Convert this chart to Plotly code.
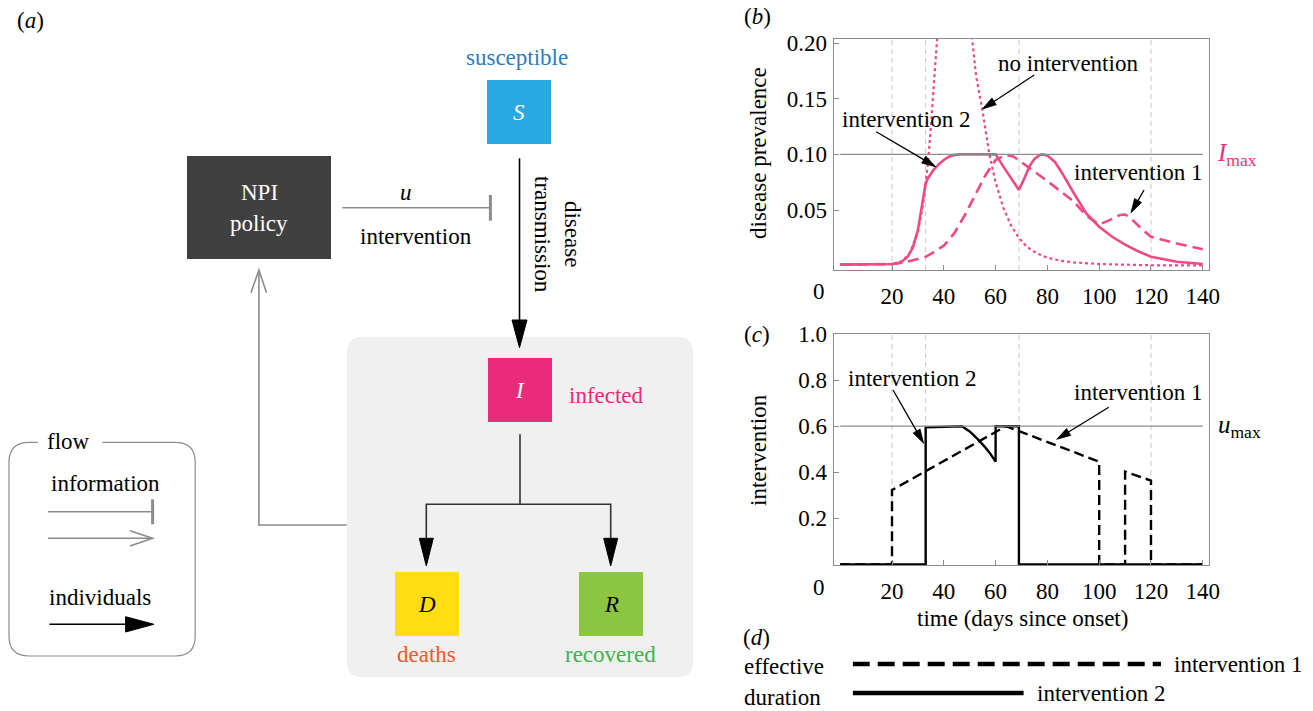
import math
import plotly.graph_objects as go

W, H = 1313, 711
FONT = "Liberation Serif"
PINK = "#EF4A85"
GRAY = "#8c8c8c"

# ---------------- data: panel (b) disease prevalence ----------------
days_none = [0, 10, 20, 24, 27, 30, 32, 33, 34, 35, 36, 36.6, 38, 41, 44, 47, 49.5, 51.1, 52.5,
             54.9, 57.6, 60, 63, 66, 69, 72, 76, 80, 85, 90, 100, 110, 120, 140]
prev_none = [0.001, 0.001, 0.0015, 0.004, 0.012, 0.03, 0.055, 0.074, 0.095, 0.125, 0.165, 0.2,
             0.26, 0.32, 0.34, 0.31, 0.25, 0.2, 0.17, 0.14, 0.1, 0.075, 0.052, 0.036, 0.025,
             0.017, 0.011, 0.0072, 0.0045, 0.003, 0.0015, 0.0008, 0.0004, 0.0002]

days_int2 = [0, 10, 20, 22, 24, 26, 28, 30, 31, 32, 33, 34, 36, 38, 40, 42, 44, 46, 50, 55, 60,
             63, 66, 69, 71, 73, 75, 77, 78, 80, 83, 86, 90, 95, 100, 105, 110, 115, 120, 130, 140]
prev_int2 = [0.001, 0.001, 0.0015, 0.002, 0.004, 0.008, 0.016, 0.032, 0.045, 0.06, 0.074, 0.079,
             0.086, 0.091, 0.095, 0.098, 0.0995, 0.1, 0.1, 0.1, 0.1, 0.089, 0.078, 0.068, 0.078,
             0.089, 0.096, 0.0995, 0.1, 0.099, 0.093, 0.082, 0.066, 0.047, 0.035, 0.026, 0.019,
             0.013, 0.008, 0.0035, 0.0015]

days_int1 = [0, 10, 20, 25, 30, 33, 36, 40, 44, 48, 52, 56, 60, 64, 67, 70, 75, 80, 85, 90, 95,
             100, 104, 108, 110, 112, 116, 120, 130, 140]
prev_int1 = [0.001, 0.001, 0.0015, 0.003, 0.006, 0.008, 0.012, 0.018, 0.029, 0.045, 0.063, 0.081,
             0.095, 0.0995, 0.098, 0.093, 0.084, 0.076, 0.067, 0.058, 0.045, 0.037, 0.041, 0.0455,
             0.046, 0.043, 0.034, 0.026, 0.02, 0.0147]

I_MAX = 0.1
U_MAX = 0.6
policy_days = [20, 33, 69, 120]        # dashed vertical markers
x_ticks = [20, 40, 60, 80, 100, 120, 140]
prev_ticks = [0.05, 0.10, 0.15, 0.20]
prev_tick_text = ["0.05", "0.10", "0.15", "0.20"]
u_ticks = [0.2, 0.4, 0.6, 0.8, 1.0]
u_tick_text = ["0.2", "0.4", "0.6", "0.8", "1.0"]

# ---------------- data: panel (c) intervention ----------------
u1_days = [0, 20, 20, 64, 100, 100, 110, 110, 120, 120, 140]
u1_vals = [0, 0, 0.323, 0.6, 0.446, 0, 0, 0.403, 0.364, 0, 0]
u2_days = [0, 33, 33, 47, 50, 53, 56, 58, 60, 60, 69, 69, 140]
u2_vals = [0, 0, 0.595, 0.6, 0.577, 0.545, 0.508, 0.48, 0.446, 0.6, 0.6, 0, 0]

# ---------------- data: panel (d) effective duration (relative) ----------------
dur_names = ["intervention 1", "intervention 2"]
dur_values = [1.0, 0.554]

# ---------------- layout geometry (pixels) ----------------
XDOM_PX = (833.5, 1209)
XRANGE = (-2.59, 142.4)
B_DOM_PX = (270, 39)          # bottom, top
B_RANGE = (-0.00386, 0.2037)
C_DOM_PX = (565, 334)
C_RANGE = (-0.0022, 1.0)


def X(px):
    return px / W


def Y(py):
    return 1 - py / H


def P(px, py):
    return f"{X(px):.5f},{Y(py):.5f}"


def data_to_px(d, v, ydom, yrange):
    xp = XDOM_PX[0] + (d - XRANGE[0]) * (XDOM_PX[1] - XDOM_PX[0]) / (XRANGE[1] - XRANGE[0])
    yp = ydom[0] - (v - yrange[0]) * (ydom[0] - ydom[1]) / (yrange[1] - yrange[0])
    return xp, yp


fig = go.Figure()

# panel (b) traces
fig.add_trace(go.Scatter(x=days_none, y=prev_none, mode="lines",
                         line=dict(color=PINK, width=2.2, dash="3px,3px"), xaxis="x", yaxis="y"))
fig.add_trace(go.Scatter(x=days_int1, y=prev_int1, mode="lines",
                         line=dict(color=PINK, width=2.6, dash="11px,6px"), xaxis="x", yaxis="y"))
fig.add_trace(go.Scatter(x=days_int2, y=prev_int2, mode="lines",
                         line=dict(color=PINK, width=2.6), xaxis="x", yaxis="y"))
# panel (c) traces
fig.add_trace(go.Scatter(x=u1_days, y=u1_vals, mode="lines",
                         line=dict(color="black", width=2.4, dash="10px,5px"), xaxis="x2", yaxis="y2"))
fig.add_trace(go.Scatter(x=u2_days, y=u2_vals, mode="lines",
                         line=dict(color="black", width=2.4), xaxis="x2", yaxis="y2"))
# panel (d) traces
fig.add_trace(go.Scatter(x=[0, dur_values[0]], y=[dur_names[0]] * 2, mode="lines",
                         line=dict(color="black", width=4.5, dash="17px,8px"), xaxis="x3", yaxis="y3"))
fig.add_trace(go.Scatter(x=[0, dur_values[1]], y=[dur_names[1]] * 2, mode="lines",
                         line=dict(color="black", width=4.5), xaxis="x3", yaxis="y3"))

shapes = []
annotations = []

# reference lines
for d in policy_days:
    for xr, yr in (("x", "y domain"), ("x2", "y2 domain")):
        shapes.append(dict(type="line", xref=xr, yref=yr, x0=d, x1=d, y0=0, y1=1,
                           line=dict(color="#c8c8c8", width=1, dash="5px,4px"), layer="below"))
shapes.append(dict(type="line", xref="x", yref="y", x0=0, x1=140, y0=I_MAX, y1=I_MAX,
                   line=dict(color=GRAY, width=1.3)))
shapes.append(dict(type="line", xref="x2", yref="y2", x0=0, x1=140, y0=U_MAX, y1=U_MAX,
                   line=dict(color=GRAY, width=1.3)))


def txt(text, x, y, size=23, color="black", xanchor="center", yanchor="middle",
        xref="paper", yref="paper", angle=0, **kw):
    annotations.append(dict(text=text, x=x, y=y, xref=xref, yref=yref, showarrow=False,
                            xanchor=xanchor, yanchor=yanchor, textangle=angle,
                            font=dict(family=FONT, size=size, color=color), **kw))


def seg(pts, color="black", width=1.5, fill=None, closed=False):
    path = "M" + " L".join(P(a, b) for a, b in pts) + (" Z" if closed else "")
    d = dict(type="path", xref="paper", yref="paper", path=path,
             line=dict(color=color, width=width))
    if fill:
        d["fillcolor"] = fill
    shapes.append(d)


def data_arrow(tip, tail, ydom, yrange, head_len=14, half_w=4):
    tx, ty = data_to_px(tip[0], tip[1], ydom, yrange)
    sx, sy = data_to_px(tail[0], tail[1], ydom, yrange)
    L = math.hypot(tx - sx, ty - sy)
    ux, uy = (tx - sx) / L, (ty - sy) / L
    bx, by = tx - ux * head_len, ty - uy * head_len
    seg([(sx, sy), (bx + ux * 2, by + uy * 2)], width=1.3)
    seg([(bx - uy * half_w, by + ux * half_w), (tx, ty), (bx + uy * half_w, by - ux * half_w)],
        fill="black", width=0.8, closed=True)


# panel (b) texts
txt("(<i>b</i>)", X(757), Y(17))
txt("disease prevalence", X(758), Y(153), angle=-90)
txt("0", X(819), Y(291))
txt("no intervention", 87.9, 0.182, xref="x", yref="y")
txt("intervention 2", 25.4, 0.1318, xref="x", yref="y")
txt("intervention 1", 115.1, 0.0839, xref="x", yref="y")
txt("<i>I</i><sub>max</sub>", X(1215), I_MAX, color="#E8327C", xanchor="left", yref="y", size=25)
data_arrow((54.9, 0.1408), (74.9, 0.1713), B_DOM_PX, B_RANGE)
data_arrow((36.9, 0.0889), (13.9, 0.1204), B_DOM_PX, B_RANGE)
data_arrow((112.3, 0.0476), (117.3, 0.068), B_DOM_PX, B_RANGE)

# panel (c) texts
txt("(<i>c</i>)", X(757), Y(334))
txt("intervention", X(758), Y(450), angle=-90)
txt("0", X(819), Y(587))
txt("time (days since onset)", X(1022), Y(618))
txt("intervention 2", 27.6, 0.805, xref="x2", yref="y2")
txt("intervention 1", 115.1, 0.747, xref="x2", yref="y2")
txt("<i>u</i><sub>max</sub>", X(1216), U_MAX, xanchor="left", yref="y2", size=25)
data_arrow((32.2, 0.526), (20.4, 0.757), C_DOM_PX, C_RANGE)
data_arrow((83.6, 0.543), (103.7, 0.682), C_DOM_PX, C_RANGE)

# panel (d) texts
txt("(<i>d</i>)", X(756), Y(637))
txt("effective", X(742), Y(666), xanchor="left")
txt("duration", X(742), Y(697), xanchor="left")
for name, v in zip(dur_names, dur_values):
    txt(name, v, name, xref="x3", yref="y3", xanchor="left", xshift=11)

# ---------------- panel (a) diagram ----------------
txt("(<i>a</i>)", X(30), Y(20))


def rrect(x0, y0, x1, y1, r):
    return ("M" + P(x0 + r, y0) + " L" + P(x1 - r, y0) + " Q" + P(x1, y0) + " " + P(x1, y0 + r) +
            " L" + P(x1, y1 - r) + " Q" + P(x1, y1) + " " + P(x1 - r, y1) +
            " L" + P(x0 + r, y1) + " Q" + P(x0, y1) + " " + P(x0, y1 - r) +
            " L" + P(x0, y0 + r) + " Q" + P(x0, y0) + " " + P(x0 + r, y0) + " Z")


def box(x0, y0, x1, y1, color):
    shapes.append(dict(type="rect", xref="paper", yref="paper", x0=X(x0), x1=X(x1),
                       y0=Y(y1), y1=Y(y0), fillcolor=color, line=dict(width=0)))


# infected region
shapes.append(dict(type="path", xref="paper", yref="paper", path=rrect(346.8, 336.7, 693.2, 677.3, 16),
                   fillcolor="#F0F0F0", line=dict(width=0), layer="below"))
# compartments
box(487, 80, 551, 144, "#29A9E1")
box(488, 358, 552, 422, "#EC2A7B")
box(395, 572, 459, 636, "#FFDC14")
box(579, 572, 643, 636, "#8CC540")
box(187, 156, 331, 259, "#404040")

txt("<i>S</i>", X(519), Y(112), color="white")
txt("<i>I</i>", X(520), Y(390), color="white")
txt("<i>D</i>", X(427), Y(604))
txt("<i>R</i>", X(611), Y(604))
txt("NPI", X(259), Y(193), color="white")
txt("policy", X(259), Y(223), color="white")
txt("susceptible", X(517), Y(58), color="#2A7DC2")
txt("infected", X(567), Y(395), color="#EC2A7B", xanchor="left")
txt("deaths", X(426.3), Y(654), color="#F15A29")
txt("recovered", X(610.5), Y(654), color="#3BB54A")
txt("<i>u</i>", X(406), Y(193))
txt("intervention", X(416), Y(236))
txt("disease<br>transmission", X(557), Y(234), angle=90)

# S -> I arrow
seg([(519.5, 158.3), (519.5, 322)], width=1.6)
seg([(512, 320), (519.5, 347.7), (527, 320)], fill="black", width=1, closed=True)
# I -> D, R
seg([(520, 434.3), (520, 504.3)], color="#333333", width=1.6)
seg([(426.3, 540), (426.3, 504.3), (610.7, 504.3), (610.7, 540)], color="#333333", width=1.6)
for xx in (426.3, 610.7):
    seg([(xx - 7, 538.3), (xx, 566), (xx + 7, 538.3)], fill="black", width=1, closed=True)
# intervention T-bar
seg([(342.4, 207.7), (490.4, 207.7)], color=GRAY, width=1.6)
seg([(490.4, 195), (490.4, 220.7)], color=GRAY, width=3)
# feedback information arrow
seg([(346.8, 525), (258.9, 525), (258.9, 271)], color=GRAY, width=1.6)
seg([(251, 292.7), (258.9, 270), (266.5, 292.7)], color=GRAY, width=1.6)

# flow legend box with gap for title
r = 20
x0, y0, x1, y1 = 9, 442.3, 195.2, 656
path = ("M" + P(102.3, y0) + " L" + P(x1 - r, y0) + " Q" + P(x1, y0) + " " + P(x1, y0 + r) +
        " L" + P(x1, y1 - r) + " Q" + P(x1, y1) + " " + P(x1 - r, y1) +
        " L" + P(x0 + r, y1) + " Q" + P(x0, y1) + " " + P(x0, y1 - r) +
        " L" + P(x0, y0 + r) + " Q" + P(x0, y0) + " " + P(x0 + r, y0) + " L" + P(38, y0))
shapes.append(dict(type="path", xref="paper", yref="paper", path=path, line=dict(color=GRAY, width=1.2)))
txt("flow", X(68.4), Y(441))
txt("information", X(105.4), Y(483))
seg([(48, 511.7), (152.6, 511.7)], color=GRAY, width=1.6)
seg([(152.6, 499.3), (152.6, 524.3)], color=GRAY, width=3)
seg([(48, 538.3), (152.6, 538.3)], color=GRAY, width=1.6)
seg([(130, 530.7), (152.6, 538.3), (130, 546)], color=GRAY, width=1.6)
txt("individuals", X(99.6), Y(597))
seg([(49.4, 624.3), (128, 624.3)], width=1.6)
seg([(125.6, 616.7), (153.9, 624.3), (125.6, 632)], fill="black", width=1, closed=True)

axis_common = dict(showgrid=False, zeroline=False, showline=True, mirror=True, linecolor=GRAY,
                   linewidth=1, ticks="inside", ticklen=5, tickcolor=GRAY, automargin=False,
                   tickfont=dict(family=FONT, size=23, color="black"))

fig.update_layout(
    width=W, height=H, margin=dict(l=0, r=0, t=0, b=0, autoexpand=False),
    paper_bgcolor="white", plot_bgcolor="rgba(0,0,0,0)", showlegend=False,
    xaxis=dict(domain=[X(XDOM_PX[0]), X(XDOM_PX[1])], range=list(XRANGE), anchor="y",
               tickvals=x_ticks, ticklabelstandoff=5, **axis_common),
    yaxis=dict(domain=[Y(B_DOM_PX[0]), Y(B_DOM_PX[1])], range=list(B_RANGE), anchor="x",
               tickvals=prev_ticks, ticktext=prev_tick_text, ticklabelstandoff=1, **axis_common),
    xaxis2=dict(domain=[X(XDOM_PX[0]), X(XDOM_PX[1])], range=list(XRANGE), anchor="y2",
                tickvals=x_ticks, ticklabelstandoff=5, **axis_common),
    yaxis2=dict(domain=[Y(C_DOM_PX[0]), Y(C_DOM_PX[1])], range=list(C_RANGE), anchor="x2",
                tickvals=u_ticks, ticktext=u_tick_text, ticklabelstandoff=1, **axis_common),
    xaxis3=dict(domain=[X(852.7), X(1161.2)], range=[0, 1], anchor="y3", visible=False),
    yaxis3=dict(domain=[Y(707.5), Y(649.5)], range=[-0.5, 1.5], anchor="x3", visible=False,
                type="category", categoryorder="array", categoryarray=dur_names[::-1]),
    shapes=shapes, annotations=annotations,
)

fig.write_html(
    "out.html",
    config={"displayModeBar": False},
    post_script=("document.documentElement.style.margin='0';document.body.style.margin='0';"
                 "document.body.style.overflow='hidden';"
                 "var d=document.getElementById('{plot_id}');d.style.position='absolute';"
                 "d.style.left='0px';d.style.top='0px';"),
)
